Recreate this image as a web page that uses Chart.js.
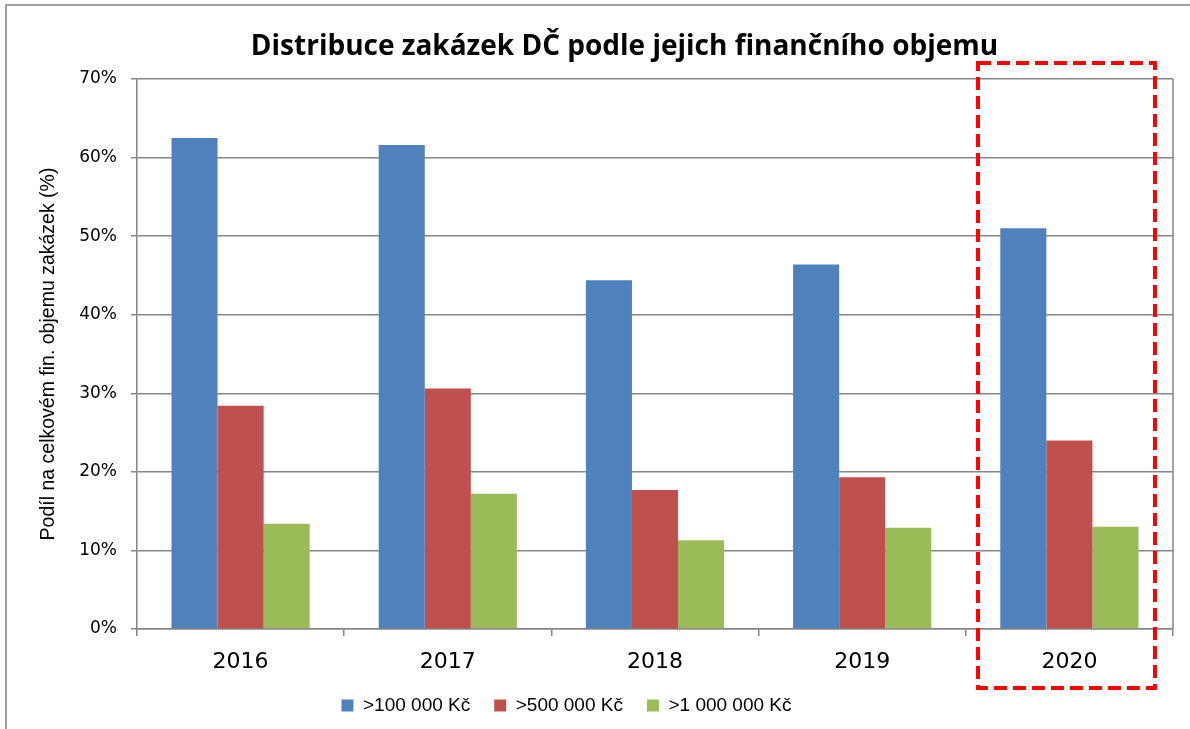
<!DOCTYPE html>
<html>
<head>
<meta charset="utf-8">
<script src="https://cdn.jsdelivr.net/npm/chart.js@4.4.1/dist/chart.umd.min.js"></script>
<style>
  html, body { margin: 0; padding: 0; background: #ffffff; }
  #wrap { width: 1190px; height: 729px; position: relative; }
</style>
</head>
<body>
<div id="wrap"><canvas id="c" width="1190" height="729"></canvas></div>
<script>
// ---- data ----
const categories = ["2016", "2017", "2018", "2019", "2020"];
const seriesNames = [">100 000 Kč", ">500 000 Kč", ">1 000 000 Kč"];
const over100k = [62.5, 61.6, 44.4, 46.4, 51.0];
const over500k = [28.4, 30.6, 17.7, 19.3, 24.0];
const over1m   = [13.4, 17.2, 11.3, 12.9, 13.0];
const yTicks = [0, 10, 20, 30, 40, 50, 60, 70];
const titleText = "Distribuce zakázek DČ podle jejich finančního objemu";
const yTitleText = "Podíl na celkovém fin. objemu zakázek (%)";
const highlightCategory = "2020";

const colors = ["#4F81BD", "#C0504D", "#9BBB59"];
const gridColor = "#868686";

const decor = {
  id: "decor",
  beforeDraw(chart) {
    const ctx = chart.ctx;
    ctx.save();
    ctx.fillStyle = "#ffffff";
    ctx.fillRect(0, 0, chart.width, chart.height);
    ctx.restore();
  },
  afterLayout(chart) {
    // reference centres the legend slightly left and the title slightly right
    if (chart.legend) {
      chart.legend.left -= 20;
      chart.legend.right -= 20;
    }
    if (chart.titleBlock) {
      chart.titleBlock.left += 38;
      chart.titleBlock.right += 38;
    }
  },
  afterDraw(chart) {
    const ctx = chart.ctx;
    const a = chart.chartArea;
    const xs = chart.scales.x;
    ctx.save();
    // outer frame (top + left)
    ctx.strokeStyle = "#a0a0a0";
    ctx.lineWidth = 2;
    ctx.beginPath();
    ctx.moveTo(6, chart.height);
    ctx.lineTo(6, 5);
    ctx.lineTo(chart.width, 5);
    ctx.stroke();
    // plot-area right border
    ctx.strokeStyle = gridColor;
    ctx.lineWidth = 1.5;
    ctx.beginPath();
    ctx.moveTo(a.right, a.top);
    ctx.lineTo(a.right, a.bottom);
    ctx.stroke();
    // highlight dashed rectangle around the highlighted category
    const idx = categories.indexOf(highlightCategory);
    const cx = xs.getPixelForValue(idx);
    const w = (a.right - a.left) / categories.length;
    const l = cx - 0.441 * w, r = cx + 0.413 * w;
    const t = a.top - 16, b = a.bottom + 59;
    ctx.strokeStyle = "#ff0000";
    ctx.lineWidth = 4;
    ctx.setLineDash([13, 6]);
    ctx.strokeRect(l, t, r - l, b - t);
    ctx.restore();
  }
};

new Chart(document.getElementById("c"), {
  type: "bar",
  data: {
    labels: categories,
    datasets: [
      { label: seriesNames[0], data: over100k, backgroundColor: colors[0] },
      { label: seriesNames[1], data: over500k, backgroundColor: colors[1] },
      { label: seriesNames[2], data: over1m,   backgroundColor: colors[2] }
    ]
  },
  options: {
    responsive: false,
    animation: false,
    devicePixelRatio: 1,
    layout: { padding: { left: 0, right: 17, top: 0, bottom: 4 } },
    datasets: { bar: { categoryPercentage: 0.667, barPercentage: 1.0, borderWidth: 0 } },
    plugins: {
      title: {
        display: true,
        text: titleText,
        color: "#000000",
        font: { family: "'Open Sans', 'Noto Sans', sans-serif", size: 28, weight: "bold", lineHeight: 1.2 },
        padding: { top: 30, bottom: 15.4 }
      },
      legend: {
        position: "bottom",
        labels: {
          boxWidth: 12,
          boxHeight: 12,
          padding: 24,
          color: "#000000",
          font: { family: "'Liberation Sans', Arial, sans-serif", size: 19 }
        }
      },
      tooltip: { enabled: false }
    },
    scales: {
      x: {
        afterFit(s) { s.height = 43; },
        grid: { display: true, drawOnChartArea: false, drawTicks: true, tickLength: 7, offset: true, color: gridColor, lineWidth: 1.5 },
        border: { display: true, color: gridColor, width: 1.5 },
        ticks: {
          color: "#000000",
          padding: 13,
          font: { family: "'DejaVu Sans', Verdana, sans-serif", size: 22 }
        }
      },
      y: {
        min: 0,
        max: 70,
        afterFit(s) { s.width = 137; },
        afterBuildTicks(s) { s.ticks = yTicks.map(v => ({ value: v })); },
        grid: { display: true, drawTicks: true, tickLength: 6, color: gridColor, lineWidth: 1.5 },
        border: { display: true, color: gridColor, width: 1.5 },
        ticks: {
          color: "#000000",
          padding: 14,
          font: { family: "'DejaVu Sans', Verdana, sans-serif", size: 17 },
          callback: v => v + "%"
        },
        title: {
          display: true,
          text: yTitleText,
          color: "#000000",
          font: { family: "'Liberation Sans', Arial, sans-serif", size: 19.5 },
          padding: { top: 37, bottom: 0 }
        }
      }
    }
  },
  plugins: [decor]
});
</script>
</body>
</html>
